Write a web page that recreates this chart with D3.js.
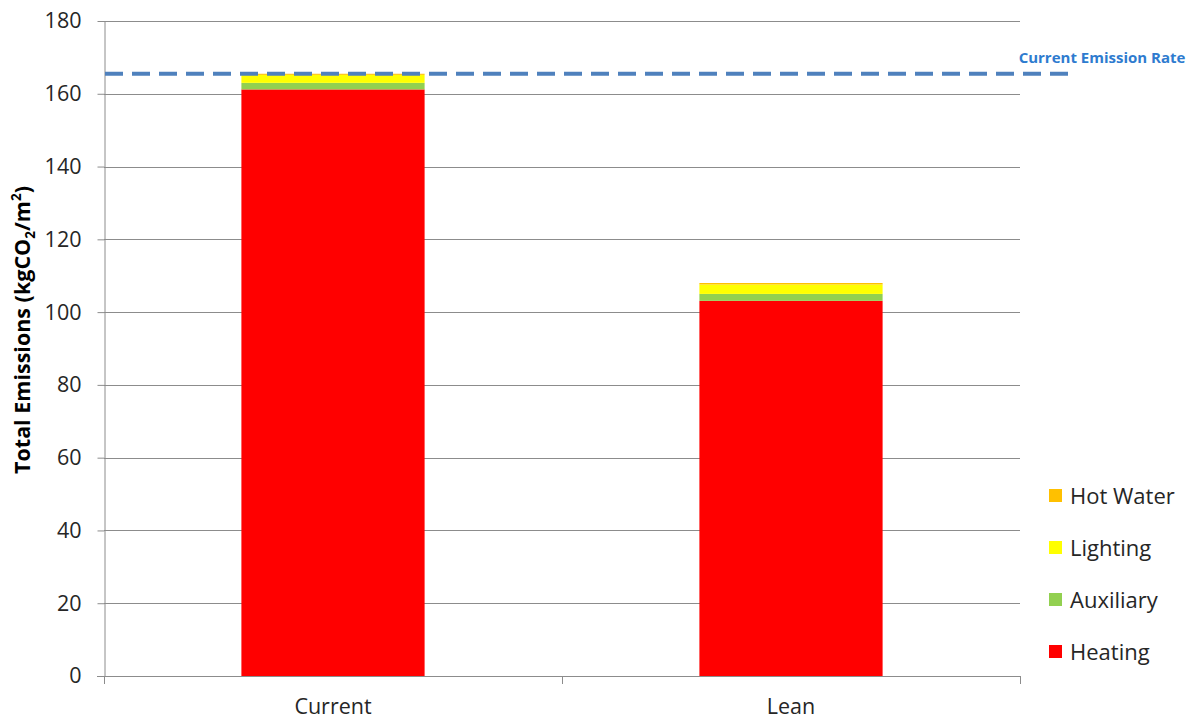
<!DOCTYPE html>
<html>
<head>
<meta charset="utf-8">
<script src="https://cdn.jsdelivr.net/npm/d3@7/dist/d3.min.js"></script>
<style>
  html, body { margin: 0; padding: 0; background: #ffffff; }
  svg { display: block; }
  text { font-family: "Open Sans", "Liberation Sans", sans-serif; }
</style>
</head>
<body>
<svg id="chart" width="1188" height="721"></svg>
<script>
// Emissions per scenario, split by end use (kgCO2/m2)
const categories = ["Current", "Lean"];
const heating    = [161.2, 103.1];
const auxiliary  = [1.8, 1.9];
const lighting   = [2.2, 2.6];
const hotWater   = [0.3, 0.4];
const currentEmissionRate = 165.5;
const yTicks = [0, 20, 40, 60, 80, 100, 120, 140, 160, 180];

const seriesNames  = ["Heating", "Auxiliary", "Lighting", "Hot Water"];
const seriesColors = ["#ff0000", "#92d050", "#ffff00", "#ffc000"];

const svg = d3.select("#chart");
const plot = { left: 104, right: 1020, top: 21, bottom: 676 };

const x = d3.scaleBand()
  .domain(categories)
  .range([plot.left, plot.right])
  .paddingInner(0.6)
  .paddingOuter(0.3);

const y = d3.scaleLinear()
  .domain([0, 180])
  .range([plot.bottom, plot.top]);

// Rows for the stack layout
const rows = categories.map((c, i) => ({
  category: c,
  "Heating": heating[i],
  "Auxiliary": auxiliary[i],
  "Lighting": lighting[i],
  "Hot Water": hotWater[i]
}));
const stacked = d3.stack().keys(seriesNames)(rows);
const color = d3.scaleOrdinal().domain(seriesNames).range(seriesColors);

// Horizontal gridlines
svg.append("g")
  .selectAll("line")
  .data(yTicks.filter(d => d > 0))
  .join("line")
  .attr("x1", plot.left)
  .attr("x2", plot.right)
  .attr("y1", d => Math.round(y(d)) + 0.5)
  .attr("y2", d => Math.round(y(d)) + 0.5)
  .attr("stroke", "#8c8c8c")
  .attr("stroke-width", 1);

// Stacked bars
svg.append("g")
  .selectAll("g")
  .data(stacked)
  .join("g")
  .attr("fill", d => color(d.key))
  .selectAll("rect")
  .data(d => d)
  .join("rect")
  .attr("x", d => x(d.data.category))
  .attr("width", x.bandwidth())
  .attr("y", d => y(d[1]))
  .attr("height", d => y(d[0]) - y(d[1]));

// Y axis
const yAxis = svg.append("g")
  .attr("transform", `translate(${plot.left + 0.5},0)`)
  .call(d3.axisLeft(y).tickValues(yTicks).tickSize(7).tickPadding(16).tickSizeOuter(0));
yAxis.select(".domain").attr("stroke", "#8c8c8c");
yAxis.selectAll(".tick line").attr("stroke", "#8c8c8c");
yAxis.selectAll(".tick text")
  .attr("font-family", "'Open Sans', sans-serif")
  .attr("font-size", 21.5)
  .attr("fill", "#262626");

// X axis with boundary ticks between categories
const xAxisG = svg.append("g");
xAxisG.append("line")
  .attr("x1", plot.left - 7).attr("x2", plot.right)
  .attr("y1", plot.bottom + 0.5).attr("y2", plot.bottom + 0.5)
  .attr("stroke", "#8c8c8c");
const boundaries = [plot.left, ...categories.map(c => x(c) + x.bandwidth() / 2 + x.step() / 2)];
xAxisG.selectAll("line.bt")
  .data(boundaries)
  .join("line")
  .attr("class", "bt")
  .attr("x1", d => Math.round(d) + 0.5).attr("x2", d => Math.round(d) + 0.5)
  .attr("y1", plot.bottom).attr("y2", plot.bottom + 8)
  .attr("stroke", "#8c8c8c");
xAxisG.selectAll("text")
  .data(categories)
  .join("text")
  .attr("x", d => x(d) + x.bandwidth() / 2)
  .attr("y", 714)
  .attr("text-anchor", "middle")
  .attr("font-size", 21.5)
  .attr("fill", "#262626")
  .text(d => d);

// Y axis title with chemical subscript and unit superscript
const yTitle = svg.append("text")
  .attr("transform", "translate(30,330) rotate(-90)")
  .attr("text-anchor", "middle")
  .attr("font-size", 21.5)
  .attr("font-weight", "bold")
  .attr("fill", "#000");
yTitle.append("tspan").text("Total Emissions (kgCO");
yTitle.append("tspan").attr("font-size", 13.5).attr("dy", 5).text("2");
yTitle.append("tspan").attr("dy", -5).text("/m");
yTitle.append("tspan").attr("font-size", 13.5).attr("dy", -9).text("2");
yTitle.append("tspan").attr("dy", 9).text(")");

// Reference line for the current emission rate
svg.append("line")
  .attr("x1", plot.left + 1)
  .attr("x2", 1077)
  .attr("y1", y(currentEmissionRate))
  .attr("y2", y(currentEmissionRate))
  .attr("stroke", "#4f81bd")
  .attr("stroke-width", 4)
  .attr("stroke-dasharray", "18 9");

svg.append("text")
  .attr("x", 1102)
  .attr("y", 63)
  .attr("text-anchor", "middle")
  .attr("font-size", 15)
  .attr("font-weight", "bold")
  .attr("fill", "#2e7bcf")
  .text("Current Emission Rate");

// Legend, top entry is the top of the stack
const legendItems = seriesNames.slice().reverse();
const legend = svg.append("g");
const lg = legend.selectAll("g")
  .data(legendItems)
  .join("g")
  .attr("transform", (d, i) => `translate(1049,${496 + i * 52})`);
lg.append("rect")
  .attr("x", 0).attr("y", -7)
  .attr("width", 13).attr("height", 13)
  .attr("fill", d => color(d));
lg.append("text")
  .attr("x", 21)
  .attr("y", 8)
  .attr("font-size", 22)
  .attr("fill", "#262626")
  .text(d => d);
</script>
</body>
</html>
